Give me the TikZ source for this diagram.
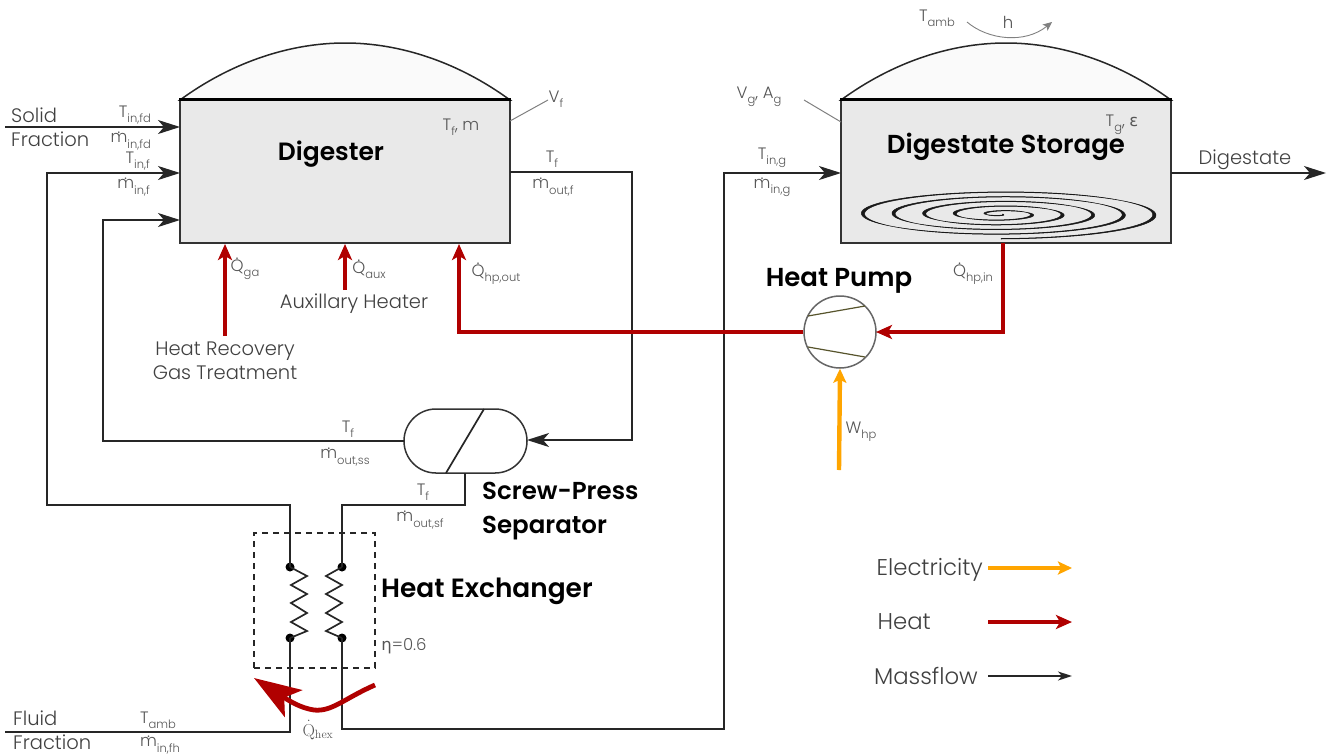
\documentclass[tikz,border=0pt]{standalone}
\usepackage[no-math]{fontspec}
\setmainfont{Poppins}[UprightFont=* Light,BoldFont=* SemiBold]
\newfontfamily\greekfont{DejaVu Sans}
\usetikzlibrary{arrows.meta}
\definecolor{heatred}{HTML}{B00000}
\definecolor{elecorange}{HTML}{FFA500}
\definecolor{txtgrey}{HTML}{555555}
\definecolor{linegrey}{HTML}{333333}
\newcommand\dt[2][.56em]{\leavevmode\setbox0\hbox{#2}\rlap{\hbox to\wd0{\hss\raisebox{#1}{.}\hss}}\box0 }
\newcommand\sbs[1]{\raisebox{-.32em}{\fontsize{11.5}{11.5}\selectfont #1}}
\newcommand\dm{\dt{m}}
\newcommand\dQ{\dt[.72em]{Q}}
\tikzset{
  x=1pt,y=-1pt,
  mass/.style={line width=1.7pt,draw=black!85},
  massarrow/.style={mass,-{Stealth[length=22pt,width=14pt,inset=6pt]}},
  heat/.style={line width=4.4pt,draw=heatred,-{Stealth[length=16pt,width=14pt,inset=4pt]}},
  elec/.style={line width=4.4pt,draw=elecorange,-{Stealth[length=14pt,width=13pt,inset=3pt]}},
  tank/.style={draw=linegrey,line width=1.6pt,fill=black!8.5},
  dome/.style={draw=black!85,line width=1.5pt,fill=black!2},
  sym/.style={text=txtgrey,font=\fontsize{16.5}{17}\selectfont,inner sep=0pt},
  plain/.style={text=black!75,font=\fontsize{19.5}{21}\selectfont,inner sep=0pt},
  legendlabel/.style={text=black!75,font=\fontsize{22.8}{24}\selectfont,inner sep=0pt},
  title/.style={text=black,font=\fontsize{26}{28}\selectfont\bfseries,inner sep=0pt},
  leader/.style={draw=black!50,line width=1pt},
}
\begin{document}
\begin{tikzpicture}
\useasboundingbox (0,0) rectangle (1330,755);
% domes
\path[dome] (180,100) .. controls (232,62) and (290,43) .. (345,43) .. controls (400,43) and (458,62) .. (510,100) -- cycle;
\path[dome] (841,100) .. controls (893,62) and (951,43) .. (1006,43) .. controls (1061,43) and (1119,62) .. (1171,100) -- cycle;
% tanks
\node[tank,minimum width=330pt,minimum height=143pt,inner sep=0pt] (dig) at (345,171.5) {};
\node[tank,minimum width=330pt,minimum height=143pt,inner sep=0pt] (sto) at (1006,171.5) {};
\draw[line width=2.6pt,black] (dig.north west) -- (dig.north east);
\draw[line width=2.6pt,black] (sto.north west) -- (sto.north east);
% spiral
\filldraw[black!90,line width=.5pt] plot[domain=20:1890,samples=500,smooth] ({1001-1.6*min(1,\x/300)*abs(cos(\x))+161*(\x/1890)*cos(\x)},{214+24.5*(\x/1890)*sin(\x)})
  -- plot[domain=1890:20,samples=500,smooth] ({1001+1.6*min(1,\x/300)*abs(cos(\x))+161*(\x/1890)*cos(\x)},{214.5+24.5*(\x/1890)*sin(\x)}) -- cycle;
% separator
\node[draw=linegrey,line width=1.5pt,fill=white,minimum width=123pt,minimum height=64pt,inner sep=0pt,rounded corners=31.9pt] (sep) at (465.5,441) {};
\coordinate (sepa) at (446,473);
\coordinate (sepb) at (484,409);
\draw[mass] (sepa) -- (sepb);
% heat pump
\node[circle,draw=black!60,line width=1.5pt,fill=white,minimum size=72pt,inner sep=0pt] (hp) at (840,332) {};
\coordinate (hpa1) at (808,316); \coordinate (hpa2) at (865,306);
\coordinate (hpb1) at (808,347); \coordinate (hpb2) at (865,357);
\draw[line width=1.2pt,draw=black!50!olive] (hpa1) -- (hpa2);
\draw[line width=1.2pt,draw=black!50!olive] (hpb1) -- (hpb2);
% heat exchanger
\node[draw=black!85,dash pattern=on 6pt off 5pt,line width=1.1pt,minimum width=121pt,minimum height=135pt,inner sep=0pt] (hx) at (314.5,600.5) {};
\node[circle,fill=black,inner sep=0pt,minimum size=9pt] (h1) at (290,567) {};
\node[circle,fill=black,inner sep=0pt,minimum size=9pt] (h2) at (290,638) {};
\node[circle,fill=black,inner sep=0pt,minimum size=9pt] (h3) at (342,567) {};
\node[circle,fill=black,inner sep=0pt,minimum size=9pt] (h4) at (342,638) {};
\draw[mass,line join=miter] (h1.center) -- (307,576) -- (291,585) -- (307,594) -- (291,603) -- (307,613) -- (291,622) -- (307,631) -- (h2.center);
\draw[mass,line join=miter] (h3.center) -- (326,576) -- (342,585) -- (326,594) -- (342,603) -- (326,613) -- (342,622) -- (326,631) -- (h4.center);
% free ends and corners
\coordinate (solidstart) at (5,127);
\coordinate (solidend) at (180,127);
\coordinate (inf) at (180,173);
\coordinate (inr) at (180,220);
\coordinate (outf) at (510,172);
\coordinate (ing) at (841,173);
\coordinate (outg) at (1171,173);
\coordinate (digend) at (1326,173);
\coordinate (sepr) at (527,440);
\coordinate (sepl) at (404,441);
\coordinate (sepbot) at (465,473);
\coordinate (fluidstart) at (5,732);
% mass flows
\draw[massarrow] (solidstart) -- (solidend);
\draw[massarrow] (h1.center) -- (290,505) -- (47,505) -- (47,173) -- (inf);
\draw[massarrow] (sepl) -- (103,441) -- (103,220) -- (inr);
\draw[massarrow] (outf) -- (632,172) -- (632,440) -- (sepr);
\draw[mass] (sepbot) -- (465,505) -- (342,505) -- (h3.center);
\draw[mass] (fluidstart) -- (290,732) -- (h2.center);
\draw[massarrow] (h4.center) -- (342,729) -- (724,729) -- (724,173) -- (ing);
\draw[massarrow] (outg) -- (digend);
% heat flows
\coordinate (qga0) at (225,336); \coordinate (qga1) at (225,244);
\coordinate (qaux0) at (345,290); \coordinate (qaux1) at (345,244);
\coordinate (qhp1) at (459,244);
\coordinate (qin0) at (1003,243); \coordinate (qin1) at (876,332);
\draw[heat] (qga0) -- (qga1);
\draw[heat] (qaux0) -- (qaux1);
\draw[heat] (hp.west) -- (459,332) -- (qhp1);
\draw[heat,line join=miter] (qin0) -- (1003,332) -- (qin1);
\coordinate (wstart) at (839,470);
\draw[elec] (wstart) -- (hp.south);
% hex heat
\coordinate (hexa) at (375,685);
\coordinate (hexb) at (254,678);
\draw[line width=4.8pt,draw=heatred,-{Stealth[length=47pt,width=32pt,inset=11pt]}] (hexa) .. controls (345,698) and (332,712) .. (314,710) .. controls (300,708) and (288,700) .. (hexb);
% convective arrow
\coordinate (ha) at (967,22); \coordinate (hb) at (1052,22);
\draw[draw=black!50,line width=.9pt,-{Stealth[length=9pt,width=8pt,inset=2pt]}] (ha) .. controls (988,40) and (1025,44) .. (hb);
% leaders
\coordinate (vfa) at (510,121); \coordinate (vfb) at (548,100);
\coordinate (vga) at (841,122); \coordinate (vgb) at (804,100);
\draw[leader] (vfa) -- (vfb);
\draw[leader] (vga) -- (vgb);
% titles
\node[title,font=\fontsize{25}{27}\selectfont\bfseries] (tdig) at (331,154) {Digester};
\node[title] (tsto) at (1006,147) {Digestate Storage};
\node[title] (thp) at (839,281) {Heat Pump};
\node[title,align=left,anchor=north west,font=\fontsize{24.5}{34}\selectfont\bfseries] (tsep) at (482,482) {Screw-Press\\Separator};
\node[title,anchor=west,font=\fontsize{26.4}{28}\selectfont\bfseries] (thx) at (381,591) {Heat Exchanger};
% plain labels
\node[plain,anchor=west] (ls) at (11,115) {Solid};
\node[plain,anchor=west] (lf) at (11,139) {Fraction};
\node[plain,anchor=west] (lf2) at (13,718) {Fluid};
\node[plain,anchor=west] (lf3) at (13,742) {Fraction};
\node[plain] (ldg) at (1245,160) {Digestate};
\node[plain] (laux) at (354,304) {Auxillary Heater};
\node[plain,align=center,font=\fontsize{19.5}{24}\selectfont] (lrec) at (225,361) {Heat Recovery\\Gas Treatment};
\node[legendlabel,anchor=east] (lel) at (983,570) {Electricity};
\node[legendlabel,anchor=east] (lhe) at (931,622) {Heat};
\node[legendlabel,anchor=east] (lma) at (978,676) {Massflow};
% legend arrows
\coordinate (e0) at (988,568); \coordinate (e1) at (1072,568);
\coordinate (r0) at (988,622); \coordinate (r1) at (1072,622);
\coordinate (m0) at (988,676); \coordinate (m1) at (1072,676);
\draw[elec] (e0) -- (e1);
\draw[heat] (r0) -- (r1);
\draw[mass,-{Stealth[length=14pt,width=9pt,inset=4pt]}] (m0) -- (m1);
% symbols
\node[sym,anchor=east] (s1) at (151,115) {T\sbs{in,fd}};
\node[sym,anchor=east] (s2) at (151,141) {\dm\sbs{in,fd}};
\node[sym,anchor=east] (s3) at (150,161) {T\sbs{in,f}};
\node[sym,anchor=east] (s4) at (150,187) {\dm\sbs{in,f}};
\node[sym] (s5) at (461,127) {T\sbs{f}, m};
\node[sym] (s6) at (556,99) {V\sbs{f}};
\node[sym] (s7) at (552,159) {T\sbs{f}};
\node[sym] (s8) at (553,187) {\dm\sbs{out,f}};
\node[sym] (s9) at (245,269) {\dQ\sbs{ga}};
\node[sym] (s10) at (369,269) {\dQ\sbs{aux}};
\node[sym] (s11) at (496,274) {\dQ\sbs{hp,out}};
\node[sym] (s12) at (348,429) {T\sbs{f}};
\node[sym] (s13) at (345,457) {\dm\sbs{out,ss}};
\node[sym] (s14) at (423,492) {T\sbs{f}};
\node[sym] (s15) at (420,520) {\dm\sbs{out,sf}};
\node[sym] (s16) at (772,158) {T\sbs{in,g}};
\node[sym] (s17) at (772,187) {\dm\sbs{in,g}};
\node[sym] (s18) at (759,97) {V\sbs{g}, A\sbs{g}};
\node[sym] (s19) at (937,18) {T\sbs{amb}};
\node[sym] (s20) at (1008,22) {h};
\node[sym] (s21) at (1122,125) {T\sbs{g}, {\greekfont ε}};
\node[sym] (s22) at (973,274) {\dQ\sbs{hp,in}};
\node[sym] (s23) at (861,432) {W\sbs{hp}};
\node[sym] (s24) at (404,646) {{\greekfont η}=0.6};
\node[sym] (s25) at (158,720) {T\sbs{amb}};
\node[sym] (s26) at (160,745) {\dm\sbs{in,fh}};
\node[sym,font=\fontsize{18}{19}\selectfont] (s27) at (318,730) {$\dot{\mathrm{Q}}_{\mathrm{hex}}$};
\end{tikzpicture}
\end{document}
